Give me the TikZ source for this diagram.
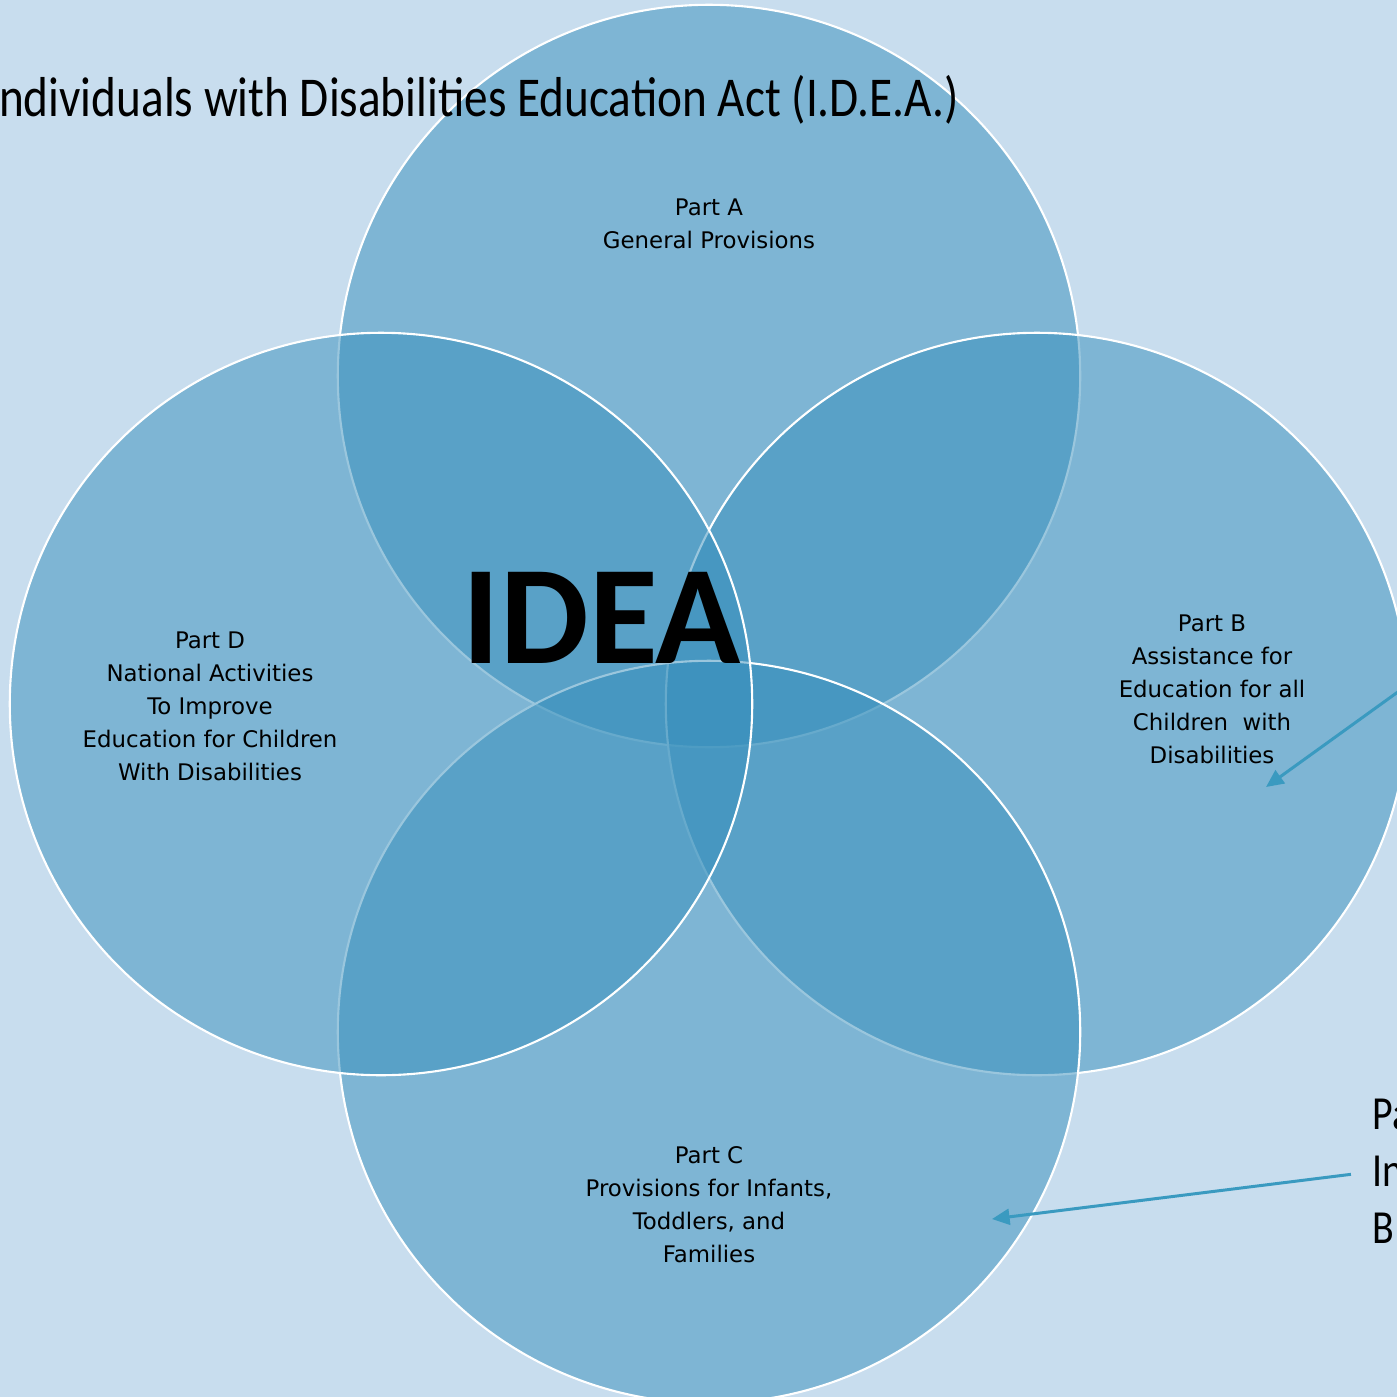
\documentclass[tikz,border=0pt]{standalone}
\usepackage{fontspec}
\setmainfont{Carlito}
\newfontfamily\titlefont[FakeStretch=0.84]{Carlito}
\newfontfamily\partfont{DejaVu Sans}
\usetikzlibrary{arrows.meta,positioning}
\definecolor{pagebg}{RGB}{200,221,238}
\definecolor{partfill}{RGB}{54,143,188}
\definecolor{pointer}{RGB}{58,154,192}
\tikzstyle{part}=[circle, draw=white, line width=0.6pt, fill=partfill, fill opacity=0.5, minimum size=7.42cm, inner sep=0pt]
\tikzstyle{part text}=[align=center, font=\partfont\fontsize{6.5}{9.4}\selectfont]
\tikzstyle{pointer arrow}=[-{Triangle[length=5pt,width=4.5pt]}, line width=0.85pt, draw=pointer]

\begin{document}
\begin{tikzpicture}[x=0.01cm,y=-0.01cm]
\useasboundingbox (0,0) rectangle (1397,1397);
\fill[pagebg] (0,0) rectangle (1397,1397);
\clip (0,0) rectangle (1397,1397);

% the four parts, drawn in this order so the outlines overlap right
\draw (709,376) node[part] (partA) {};
\draw (partA) ++(328,328) node[part] (partB) {};
\draw (partA) ++(0,656) node[part] (partC) {};
\draw (partA) ++(-328,328) node[part] (partD) {};

\draw (partA) ++(0,-152) node[part text] (textA) {Part A\\General Provisions};
\draw (partB) ++(175,-15) node[part text] (textB)
{Part B\\Assistance for\\Education for all\\Children\ \ with\\Disabilities};
\draw (partC) ++(0,173) node[part text] (textC)
{Part C\\Provisions for Infants,\\Toddlers, and\\Families};
\draw (partD) ++(-171,2) node[part text] (textD)
{Part D\\National Activities\\To Improve\\Education for Children\\With Disabilities};

\draw (602,663) node[anchor=base, inner sep=0pt, font=\bfseries\fontsize{40}{48}\selectfont] (idea) {IDEA};

\draw (960,117) node[anchor=base east, inner sep=0pt, font=\titlefont\fontsize{16}{19}\selectfont] (title)
{Individuals with Disabilities Education Act (I.D.E.A.)};

\draw (1372,1243) node[anchor=base west, align=left, inner sep=0pt, font=\titlefont\fontsize{13.5}{16.2}\selectfont] (side)
{Pa\\In\\B};

\coordinate (offB) at (1420,676);
\coordinate (tipB) at (1266,787);
\coordinate (tipC) at (992,1219);

\draw[pointer arrow] (offB) -- (tipB);
\draw[pointer arrow] ([xshift=-6pt,yshift=-1pt]side.west) -- (tipC);

\end{tikzpicture}
\end{document}
